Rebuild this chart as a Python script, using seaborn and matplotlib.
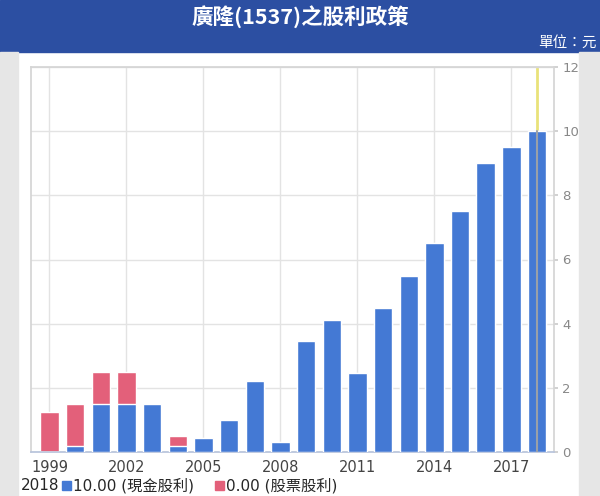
import numpy as np
import pandas as pd
import matplotlib
matplotlib.use("Agg")
import matplotlib.pyplot as plt
import seaborn as sns
from matplotlib.patches import Rectangle

years = list(range(1999, 2019))
cash = [0.0, 0.2, 1.5, 1.5, 1.5, 0.2, 0.45, 1.0, 2.2, 0.3,
        3.45, 4.1, 2.45, 4.5, 5.5, 6.5, 7.5, 9.0, 9.5, 10.0]
stock = [1.25, 1.3, 1.0, 1.0, 0.0, 0.3, 0.0, 0.0, 0.0, 0.0,
         0.0, 0.0, 0.0, 0.0, 0.0, 0.0, 0.0, 0.0, 0.0, 0.0]
xticks = [1999, 2002, 2005, 2008, 2011, 2014, 2017]
yticks = [0, 2, 4, 6, 8, 10, 12]

title = "廣隆(1537)之股利政策"
unit = "單位：元"
cash_name = "現金股利"
stock_name = "股票股利"

blue = "#4479d4"
pink = "#e3607a"
header = "#2c4fa2"

df = pd.DataFrame({"year": years, "cash": cash, "stock": stock})
df["total"] = df["cash"] + df["stock"]

sns.set_theme(style="white")
plt.rcParams["font.family"] = ["DejaVu Sans", "Noto Sans CJK TC"]

W, H = 600, 496
fig = plt.figure(figsize=(6, 4.96), dpi=100)

# background bands
fig.patches.append(Rectangle((0, 1 - 52 / H), 1, 52 / H, transform=fig.transFigure,
                             color=header, zorder=0))
fig.patches.append(Rectangle((0, 0), 18 / W, 1 - 52 / H, transform=fig.transFigure,
                             color="#e6e6e6", zorder=0))
fig.patches.append(Rectangle((579 / W, 0), 21 / W, 1 - 52 / H, transform=fig.transFigure,
                             color="#e6e6e6", zorder=0))

fig.text(0.5, 1 - 17 / H, title, color="white", fontsize=15.5, fontweight="bold",
         ha="center", va="center", family=["Noto Sans CJK TC", "DejaVu Sans"])
fig.text(597 / W, 1 - 43 / H, unit, color="white", fontsize=10.5,
         ha="right", va="center", family=["Noto Sans CJK TC", "DejaVu Sans"])

ax = fig.add_axes([31 / W, 1 - 452 / H, (554 - 31) / W, (452 - 67) / H])

# hover crosshair behind the bars
ax.axvline(years[-1], color="#e9e27a", lw=2, zorder=0.5)

sns.barplot(data=df, x="year", y="total", native_scale=True, color=pink,
            width=0.72, saturation=1, ax=ax, zorder=2)
sns.barplot(data=df, x="year", y="cash", native_scale=True, color=blue,
            width=0.72, saturation=1, ax=ax, zorder=3)
ax.plot([years[-1], years[-1]], [0, cash[-1]], color="#9aa0a8", lw=1.5, zorder=4)

ax.set_xlim(1998.28, 2018.66)
ax.set_ylim(0, 12)
ax.set_xticks(xticks)
ax.set_xticklabels([str(t) for t in xticks], color="#444444", fontsize=10.5)
ax.set_yticks(yticks)
ax.yaxis.tick_right()
ax.set_yticklabels([str(t) for t in yticks], color="#888888", fontsize=9.5)
ax.tick_params(axis="y", length=3, color="#cccccc", pad=3)
ax.tick_params(axis="x", length=4, color="#cccccc", pad=2)
ax.set_xlabel("")
ax.set_ylabel("")
ax.grid(True, color="#e3e3e3", lw=1, zorder=0)
ax.set_axisbelow(True)
for side in ["left", "top", "right"]:
    ax.spines[side].set_color("#d5d5d5")
ax.spines["bottom"].set_color("#b8c4dc")

# legend row
ly = 1 - 486 / H
fs = 11
fam = ["DejaVu Sans", "Noto Sans CJK TC"]
fig.text(21 / W, ly, str(years[-1]), fontsize=fs, va="center", family=fam)
fig.patches.append(Rectangle((62 / W, ly - 4 / H), 9 / W, 9 / H,
                             transform=fig.transFigure, color=blue))
fig.text(73 / W, ly, f"{cash[-1]:.2f} ({cash_name})", fontsize=fs, va="center", family=fam)
fig.patches.append(Rectangle((215 / W, ly - 4 / H), 9 / W, 9 / H,
                             transform=fig.transFigure, color=pink))
fig.text(226 / W, ly, f"{stock[-1]:.2f} ({stock_name})", fontsize=fs, va="center", family=fam)

fig.savefig("out.png", dpi=100)
